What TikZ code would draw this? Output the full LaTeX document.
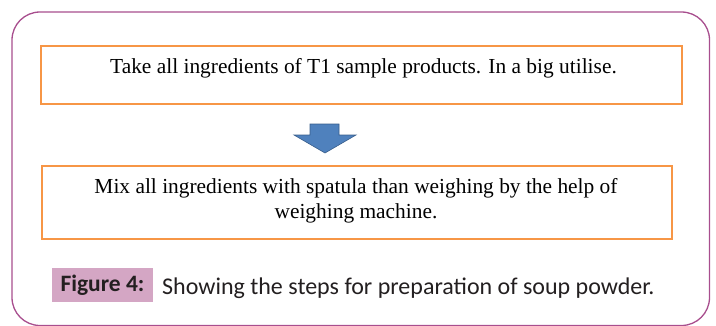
\documentclass[tikz,border=0pt]{standalone}
\usepackage{fontspec}
\setmainfont{Liberation Serif}
\newfontfamily\capfont{Carlito}
\definecolor{framepurple}{RGB}{168,78,142}
\definecolor{steporange}{RGB}{247,150,70}
\definecolor{arrowblue}{RGB}{79,129,189}
\definecolor{arrowedge}{RGB}{56,93,138}
\definecolor{capfill}{RGB}{212,166,196}
\definecolor{captext}{RGB}{35,31,32}
\begin{document}
\begin{tikzpicture}[x=1pt,y=-1pt,
  stepbox/.style={draw=steporange,line width=2.7pt,inner sep=0pt,rectangle},
  steptext/.style={font=\fontsize{21.4}{25}\selectfont,inner sep=0pt,text=black},
  capbox/.style={fill=capfill,inner sep=0pt,minimum width=101pt,minimum height=34pt,
    font=\capfont\bfseries\fontsize{23.5}{27}\selectfont,text=captext},
  captxt/.style={font=\capfont\fontsize{24}{28}\selectfont,inner sep=0pt,text=captext}]
\useasboundingbox (0,0) rectangle (716,325);
% outer frame
\draw[framepurple,line width=1.3pt,rounded corners=28pt] (12,12) rectangle (709.5,325.5);
% first step
\node[stepbox,minimum width=641pt,minimum height=58pt] (box1) at (361.5,75) {};
\node[steptext,anchor=base] (t1) at (363.5,73) {Take all ingredients of T1 sample products. In a big utilise.};
% downward block arrow
\draw[fill=arrowblue,draw=arrowedge,line width=0.6pt,line join=miter]
  (310,124) -- (339,124) -- (339,135) -- (356,135) -- (325,153) -- (294,135) -- (310,135) -- cycle;
% second step
\node[stepbox,minimum width=630pt,minimum height=73pt] (box2) at (357,202.5) {};
\node[steptext,anchor=north,align=center] (t2) at (356,178.4)
  {Mix all ingredients with spatula than weighing by the help of\\weighing machine.};
% caption
\node[capbox] (capl) at (102.5,285) {Figure 4:};
\node[captxt,anchor=base west] (capt) at (162,294) {Showing the steps for preparation of soup powder.};
\end{tikzpicture}
\end{document}
